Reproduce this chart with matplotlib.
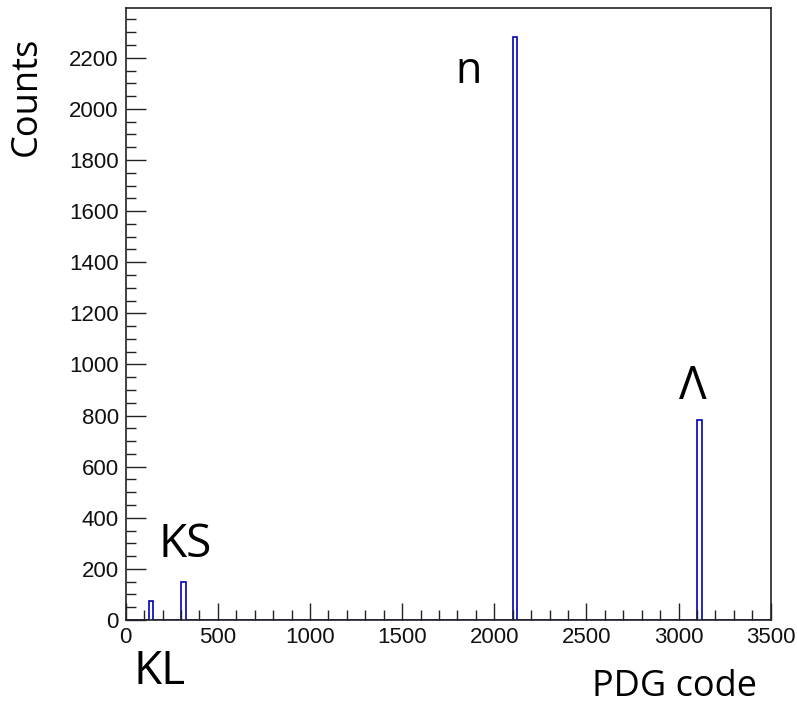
import numpy as np
import matplotlib
matplotlib.use("Agg")
import matplotlib.pyplot as plt
from matplotlib.ticker import MultipleLocator

# PDG codes seen and how many times
pdg_codes = [130, 310, 2112, 3122]
counts = [76, 150, 2282, 783]
bin_edges = np.linspace(0, 3500, 141)  # 25-wide bins

particle_labels = ["KL", "KS", "n", "\u039b"]
label_x = [186, 323, 1863, 3075]
label_y = [-250, 247, 2102, 865]
label_size = [33, 33, 31, 33]

HIST_COLOR = "#0000bb"

fig = plt.figure(figsize=(7.97, 7.07), dpi=100)
ax = fig.add_axes([0.1577, 0.1230, 0.967 - 0.1577, 0.9887 - 0.1230])

vals, _ = np.histogram(pdg_codes, bins=bin_edges, weights=counts)
ax.stairs(vals, bin_edges, color=HIST_COLOR, linewidth=1.2, zorder=1)

ax.set_xlim(0, 3500)
ax.set_ylim(0, 2395)

ax.xaxis.set_major_locator(MultipleLocator(500))
ax.xaxis.set_minor_locator(MultipleLocator(100))
ax.yaxis.set_major_locator(MultipleLocator(200))
ax.yaxis.set_minor_locator(MultipleLocator(50))

tick_font = "Liberation Sans"
ax.tick_params(axis="both", which="both", direction="in", color="#222222",
               width=1.0, top=False, right=False)
ax.tick_params(axis="y", which="major", length=14.4, pad=5)
ax.tick_params(axis="y", which="minor", length=7.2)
ax.tick_params(axis="x", which="major", length=12.5, pad=5)
ax.tick_params(axis="x", which="minor", length=7.2)
for lab in ax.get_xticklabels() + ax.get_yticklabels():
    lab.set_fontfamily(tick_font)
    lab.set_fontsize(16)
    lab.set_color("#111111")

for sp in ax.spines.values():
    sp.set_linewidth(1.2)
    sp.set_color("#222222")
    sp.set_zorder(3)

# axis titles, placed like ROOT does (at the far end of each axis)
fig.text(27 / 797, 1 - 37 / 707, "Counts", rotation=90, ha="center", va="top",
         fontfamily="Open Sans", fontsize=26)
fig.text(757 / 797, 1 - 687 / 707, "PDG code", ha="right", va="center",
         fontfamily="Open Sans", fontsize=26)

for txt, x, y, s in zip(particle_labels, label_x, label_y, label_size):
    ax.text(x, y, txt, fontfamily="Open Sans", fontsize=s, ha="center",
            va="baseline", clip_on=False)

fig.savefig("out.png", dpi=100, facecolor="white")
